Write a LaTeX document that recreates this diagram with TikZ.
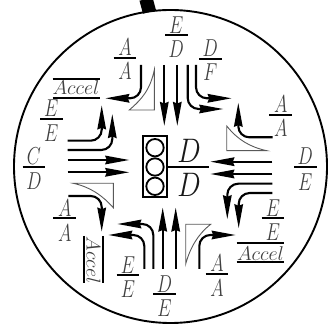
\documentclass[tikz,border=0pt]{standalone}
\usepackage{fix-cm}
\usetikzlibrary{arrows.meta}
\newcommand{\frc}[7]{% x, bar y, top y, bottom y, top, bottom, name
  \draw[bar] (#1-11.3,#2) -- (#1+11.3,#2);
  \node[lab] (#7t) at (#1,#3) {$#5$};
  \node[lab] (#7b) at (#1,#4) {$#6$};}
\begin{document}
\begin{tikzpicture}[x=1pt,y=-1pt,
  bar/.style={line width=1.9pt},
  lab/.style={inner sep=0pt,xscale=.74,font=\fontsize{24.5}{24.5}\selectfont,text=black!75},
  acc/.style={inner sep=0pt,font=\fontsize{20}{20}\selectfont,text=black!75},
  big/.style={inner sep=0pt,xscale=.82,font=\fontsize{34}{34}\selectfont,text=black!90},
  flow/.style={line width=2.1pt,rounded corners=11pt,-{Stealth[length=24pt,width=8.5pt,inset=1.5pt]}},
  ramp/.style={line width=0.9pt,draw=black!65,line join=miter}]
\useasboundingbox (0,0) rectangle (329,328);
% disc and cord
\draw[line width=1.9pt] (170.5,166.5) circle (156.5);
\draw[line width=13.5pt] (146,-1) -- (149.5,12);
% signal
\draw[line width=2pt] (143.3,135.7) rectangle (166.7,197.3);
\foreach \y in {147.7,167,186.3} \draw[line width=1.8pt] (155,\y) circle (8.7);
\draw[bar] (168,167) -- (209,167);
\node[big] (dt) at (189,151) {$D$};
\node[big] (db) at (189,185) {$D$};
% labels
\frc{125}{57.7}{47}{71}{A}{A}{a}
\frc{176.3}{35}{25}{49}{E}{D}{b}
\frc{210.3}{58.7}{48}{71.7}{D}{F}{c}
\frc{280.7}{114.7}{104}{128}{A}{A}{d}
\frc{305.3}{167.3}{156}{181.7}{D}{E}{e}
\frc{273}{218.3}{208}{232.5}{E}{E}{f}
\frc{217}{273.7}{263}{288}{A}{A}{g}
\frc{164.5}{294}{284}{308}{D}{E}{h}
\frc{128}{275}{264.7}{289}{E}{E}{i}
\frc{64.7}{218.3}{208}{233}{A}{A}{j}
\frc{34}{167.3}{156}{180.7}{C}{D}{k}
\frc{51.3}{118.7}{108}{133}{E}{E}{l}
% Accel plates
\node[acc] (ar) at (260.5,253.5) {$Accel$};
\draw[bar] (236.7,243.3) -- (284.3,243.3) (236.7,261.7) -- (284.3,261.7);
\node[acc] (al) at (76,88) {$Accel$};
\draw[bar] (52.7,79) -- (100,79) (52.7,97.7) -- (100,97.7);
\node[acc,rotate=-90] (ab) at (93.5,260) {$Accel$};
\draw[bar] (84,236) -- (84,283.3) (102.7,236) -- (102.7,283.3);
% ramps
\draw[ramp] (154.3,70) .. controls (150,90) and (142,99) .. (129.3,110) -- (154.3,110) -- cycle;
\draw[ramp] (226.7,126) .. controls (238,140) and (250,147) .. (266.7,150.7) -- (226.7,150.7) -- cycle;
\draw[ramp] (210.7,224.3) .. controls (198,234) and (190,248) .. (185.7,264) -- (185.7,224.3) -- cycle;
\draw[ramp] (73.3,183.3) .. controls (90,187) and (102,195) .. (113.3,207.7) -- (113.3,183.3) -- cycle;
% top approach
\draw[flow] (141,65) -- (141,98.3) -- (105.3,98.3);
\draw[flow] (164.3,65) -- (164.3,126);
\draw[flow] (177.3,65) -- (177.3,126);
\draw[flow] (187.7,65) -- (187.7,109) -- (223.3,109);
\draw[flow] (196,65) -- (196,98.3) -- (231.7,98.3);
% right approach
\draw[flow] (272.7,137.3) -- (238.3,137.3) -- (238.3,102.7);
\draw[flow] (272.3,161.7) -- (210.3,161.7);
\draw[flow] (272.3,174) -- (210.3,174);
\draw[flow] (272.3,183.7) -- (227.3,183.7) -- (227.3,219.3);
\draw[flow] (272.3,193) -- (238.7,193) -- (238.7,228.3);
% bottom approach
\draw[flow] (199.3,269) -- (199.3,235) -- (235.7,235);
\draw[flow] (175.7,269) -- (175.7,207.5);
\draw[flow] (162.7,269) -- (162.7,207.5);
\draw[flow] (153.3,269) -- (153.3,224) -- (117.3,224);
\draw[flow] (144.3,269) -- (144.3,235) -- (108.3,235);
% left approach
\draw[flow] (68.3,196) -- (101.7,196) -- (101.7,231.7);
\draw[flow] (67.7,172.3) -- (129.3,172.3);
\draw[flow] (67.7,160) -- (129.3,160);
\draw[flow] (67.7,150) -- (112.3,150) -- (112.3,114);
\draw[flow] (67.7,140.7) -- (101.7,140.7) -- (101.7,105.3);
\end{tikzpicture}
\end{document}
